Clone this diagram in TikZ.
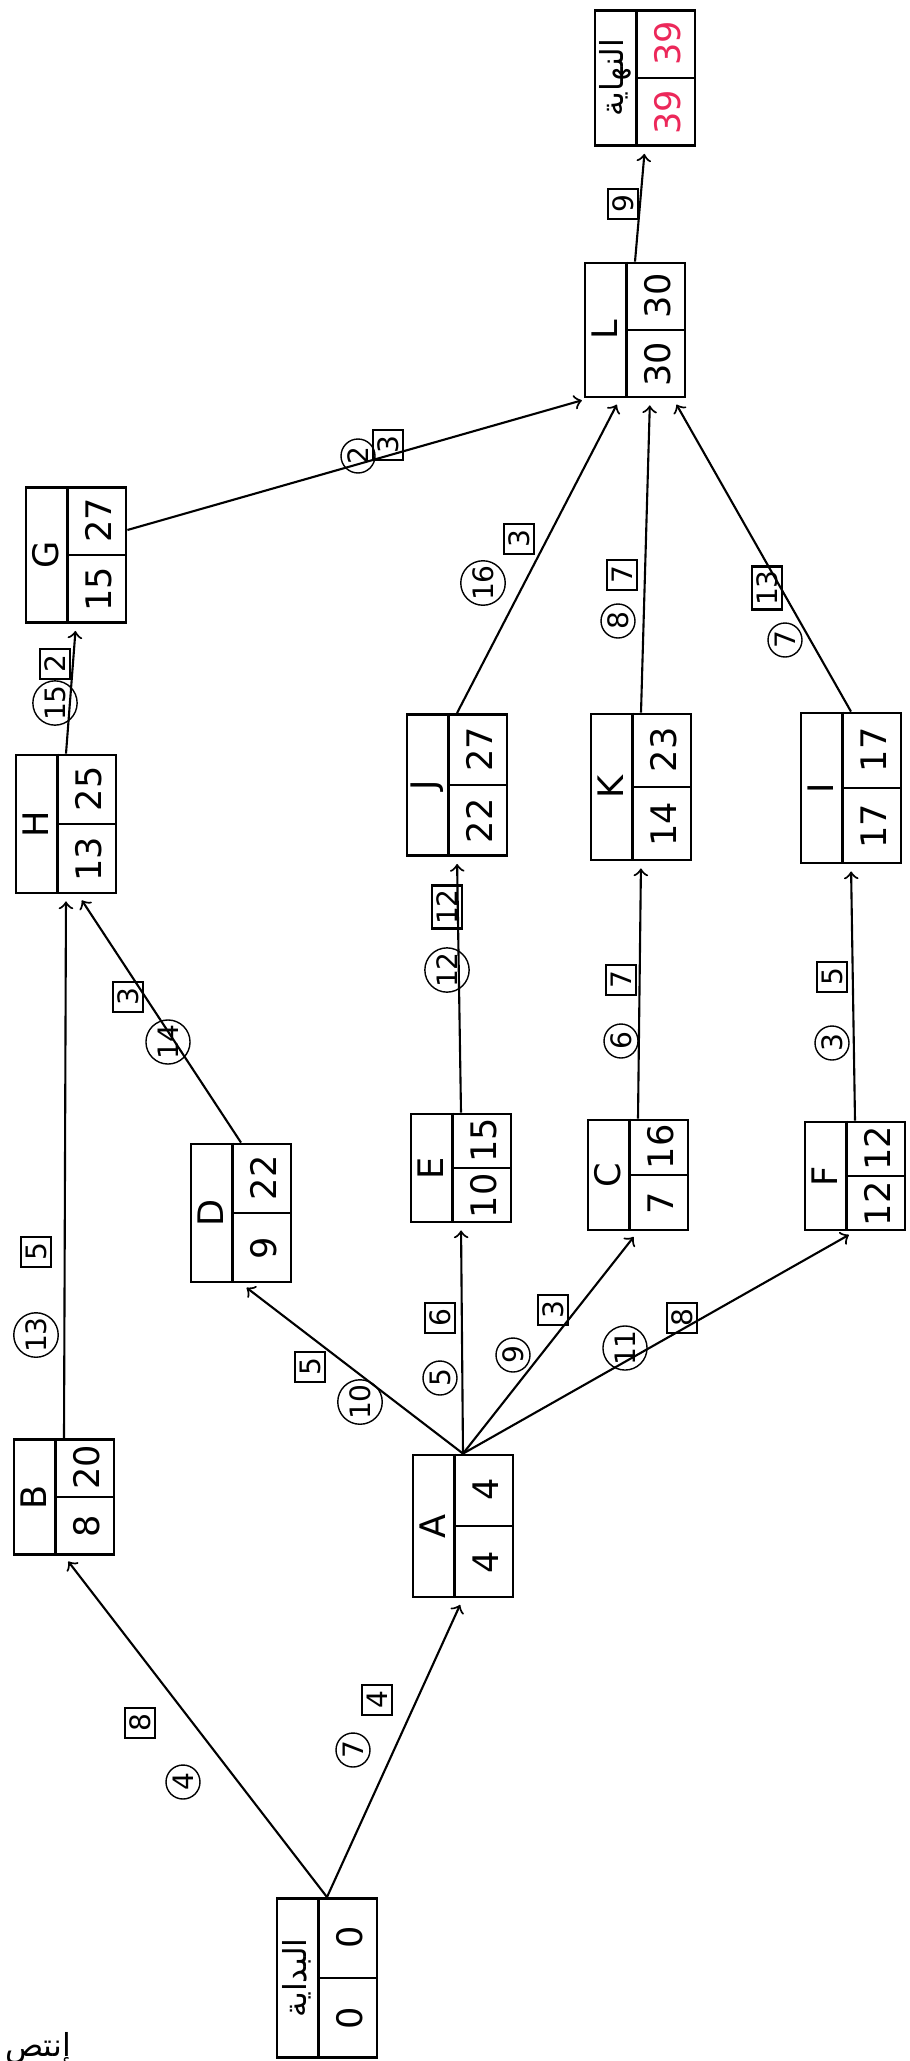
\documentclass[tikz,border=0pt]{standalone}
\usepackage{fontspec}
\setmainfont{DejaVu Sans}
\newfontfamily\arabicfont[Script=Arabic]{DejaVu Sans}
\TeXXeTstate=1
\usetikzlibrary{calc}
\definecolor{finred}{RGB}{236,40,90}

\tikzset{
  tbox/.style={draw, thick, minimum width=1cm, minimum height=1.38cm, inner sep=0pt},
  txt/.style={rotate=90, inner sep=1pt, font=\normalsize},
  cnum/.style={draw, circle, rotate=90, inner sep=0.3pt, minimum size=0.34cm, font=\footnotesize},
  bnum/.style={draw, thick, rectangle, rotate=90, inner sep=1pt, minimum size=0.3cm, font=\footnotesize},
  link/.style={->, semithick, shorten >=2pt},
}

% box of one task: [size] name, position, letter, first value, second value
\newcommand{\taskbox}[6][]{%
  \node[tbox,#1] (#2) at (#3) {};
  \draw[thick] ($(#2.north west)+(0.43,0)$) -- ($(#2.south west)+(0.43,0)$);
  \draw[thick] ($(#2.west)+(0.43,0)$) -- (#2.east);
  \node[txt] (#2-n) at ($(#2.west)+(0.215,0)$) {#4};
  \node[txt] (#2-a) at ($(#2.south east)!0.25!(#2.north east)+(-0.285,0)$) {#5};
  \node[txt] (#2-b) at ($(#2.south east)!0.75!(#2.north east)+(-0.285,0)$) {#6};
}

\begin{document}
\begin{tikzpicture}
\useasboundingbox[fill=white] (0,0) rectangle (9.1,-20.61);

% tasks
\taskbox[minimum height=1.59cm]{start}{3.27,-19.78}{\small\arabicfont\beginR البداية\endR}{0}{0}
\taskbox[minimum height=1.42cm]{A}{4.63,-15.26}{A}{4}{4}
\taskbox[minimum height=1.15cm]{B}{0.64,-14.97}{B}{8}{20}
\taskbox{D}{2.41,-12.13}{D}{9}{22}
\taskbox[minimum height=1.08cm]{E}{4.61,-11.68}{E}{10}{15}
\taskbox[minimum height=1.1cm]{C}{6.38,-11.75}{C}{7}{16}
\taskbox[minimum height=1.08cm]{F}{8.55,-11.76}{F}{12}{12}
\taskbox{H}{0.66,-8.24}{H}{13}{25}
\taskbox[minimum height=1.41cm]{J}{4.57,-7.85}{J}{22}{27}
\taskbox[minimum height=1.46cm]{K}{6.41,-7.87}{K}{14}{23}
\taskbox[minimum height=1.5cm]{I}{8.51,-7.88}{I}{17}{17}
\taskbox[minimum height=1.35cm]{G}{0.76,-5.55}{G}{15}{27}
\taskbox[minimum height=1.34cm]{L}{6.35,-3.30}{L}{30}{30}
\taskbox[minimum height=1.35cm]{end}{6.45,-0.78}{\small\arabicfont\beginR النهاية\endR}{\color{finred}39}{\color{finred}39}

% links
\draw[link] (start.north) -- (B.south);
\draw[link] (start.north) -- (A.south);
\draw[link] (A.north) -- (D.south);
\draw[link] (A.north) -- (E.south);
\draw[link] (A.north) -- (C.south);
\draw[link] (A.north) -- (F.south);
\draw[link] (B.north) -- (H.south);
\draw[link] (D.north) -- ([xshift=0.12cm]H.south);
\draw[link] (H.north) -- (G.south);
\draw[link] ([yshift=0.25cm]G.east) -- ([xshift=0.05cm]L.south west);
\draw[link] (E.north) -- (J.south);
\draw[link] (J.north) -- ([xshift=-0.15cm]L.south);
\draw[link] (C.north) -- (K.south);
\draw[link] (K.north) -- ([xshift=0.15cm]L.south);
\draw[link] (F.north) -- (I.south);
\draw[link] (I.north) -- ([xshift=0.38cm]L.south);
\draw[link] (L.north) -- (end.south);

% numbers on the links
\node[cnum] (sB-c) at (1.83,-17.82) {4};
\node[bnum] (sB-b) at (1.40,-17.23) {8};
\node[cnum] (sA-c) at (3.53,-17.50) {7};
\node[bnum] (sA-b) at (3.77,-17.00) {4};
\node[bnum] (AD-b) at (3.10,-13.67) {5};
\node[cnum] (AD-c) at (3.60,-14.02) {10};
\node[bnum] (AE-b) at (4.40,-13.18) {6};
\node[cnum] (AE-c) at (4.40,-13.78) {5};
\node[bnum] (AC-b) at (5.53,-13.10) {3};
\node[cnum] (AC-c) at (5.13,-13.55) {9};
\node[bnum] (AF-b) at (6.82,-13.18) {8};
\node[cnum] (AF-c) at (6.25,-13.48) {11};
\node[cnum] (BH-c) at (0.36,-13.35) {13};
\node[bnum] (BH-b) at (0.36,-12.52) {5};
\node[bnum] (DH-b) at (1.28,-9.97) {3};
\node[cnum] (DH-c) at (1.68,-10.42) {14};
\node[cnum] (HG-c) at (0.55,-7.03) {15};
\node[bnum] (HG-b) at (0.55,-6.64) {2};
\node[cnum] (GL-c) at (3.58,-4.56) {2};
\node[bnum] (GL-b) at (3.88,-4.45) {3};
\node[cnum] (EJ-c) at (4.47,-9.70) {12};
\node[bnum] (EJ-b) at (4.47,-9.07) {12};
\node[cnum] (JL-c) at (4.83,-5.83) {16};
\node[bnum] (JL-b) at (5.19,-5.39) {3};
\node[cnum] (CK-c) at (6.21,-10.41) {6};
\node[bnum] (CK-b) at (6.21,-9.80) {7};
\node[cnum] (KL-c) at (6.18,-6.21) {8};
\node[bnum] (KL-b) at (6.22,-5.75) {7};
\node[cnum] (FI-c) at (8.32,-10.43) {3};
\node[bnum] (FI-b) at (8.32,-9.77) {5};
\node[cnum] (IL-c) at (7.85,-6.40) {7};
\node[bnum] (IL-b) at (7.67,-5.88) {13};
\node[bnum] (Le-b) at (6.23,-2.04) {9};

% note cut at the page edge
\node[font=\small] (note) at (0.38,-20.48) {\arabicfont\beginR إنتص\endR};
\end{tikzpicture}
\end{document}
